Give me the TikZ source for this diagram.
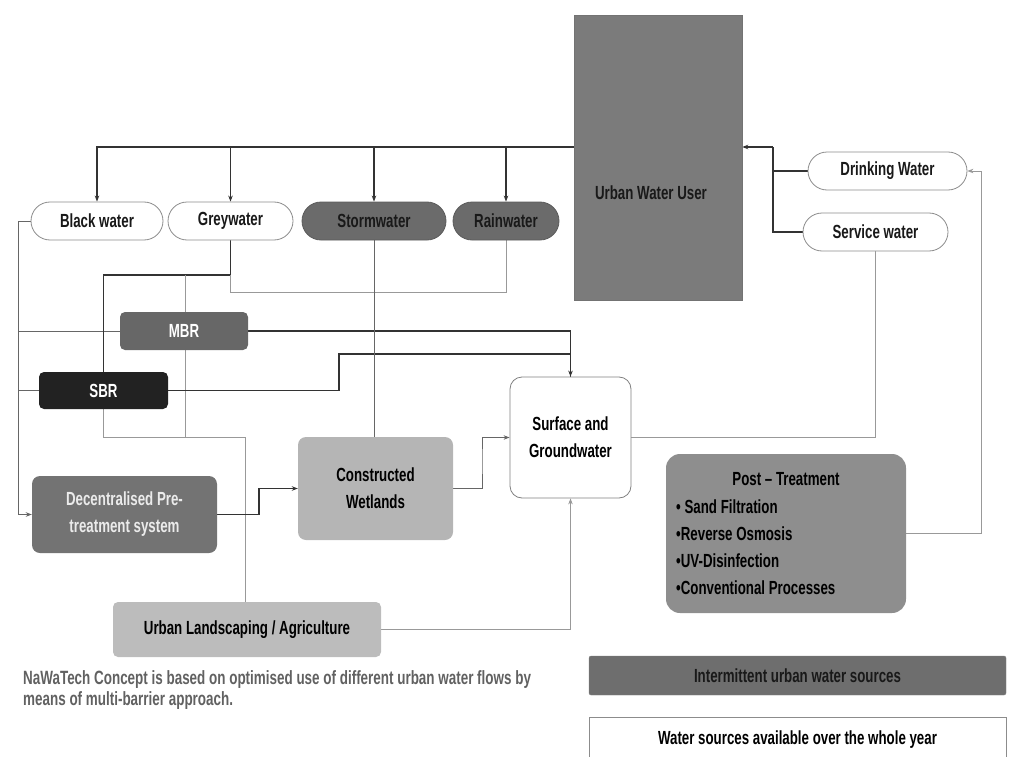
\documentclass[tikz,border=0pt]{standalone}
\usepackage{fontspec}
\newfontfamily\cf{Liberation Sans}[FakeStretch=0.7]
\usetikzlibrary{arrows.meta,backgrounds}
\definecolor{cUser}{HTML}{7B7B7B}
\definecolor{cStorm}{HTML}{6B6B6B}
\definecolor{cMBR}{HTML}{676767}
\definecolor{cSBR}{HTML}{222222}
\definecolor{cDec}{HTML}{737373}
\definecolor{cCW}{HTML}{B5B5B5}
\definecolor{cUL}{HTML}{BCBCBC}
\definecolor{cPT}{HTML}{8E8E8E}
\definecolor{cInt}{HTML}{6E6E6E}
\begin{document}
\begin{tikzpicture}[x=1pt,y=-1pt,
  font=\cf\bfseries\fontsize{19}{27}\selectfont,
  oval/.style={draw=black!45, line width=0.8pt, rounded corners=19pt, minimum height=38pt, inner sep=0pt, fill=white, text=black!90},
  ovalf/.style={oval, fill=cStorm, draw=cStorm!85!black},
  box/.style={rounded corners=5pt, inner sep=0pt, align=center},
  dk/.style={draw=black!80, line width=1.2pt},
  md/.style={draw=black!60, line width=1pt},
  lt/.style={draw=black!40, line width=0.9pt},
  arr/.style={-{Stealth[length=6pt,width=4.5pt]}}]
\useasboundingbox (0,0) rectangle (1009,757);
% nodes
\node[oval, minimum width=132pt] (bw) at (97,221) {Black water};
\node[oval, minimum width=125pt] (gw) at (230.5,221) {Greywater};
\node[ovalf, minimum width=144pt] (sw) at (374,221) {Stormwater};
\node[ovalf, minimum width=106pt] (rw) at (506,221) {Rainwater};
\node[fill=cUser, draw=black!55, minimum width=168pt, minimum height=285pt, inner sep=0pt] (uwu) at (658,157.5) {};
\node[text=black!90] (uwut) at (651,193) {Urban Water User};
\node[oval, minimum width=159pt] (dw) at (887.5,171) {Drinking Water};
\node[oval, minimum width=145pt] (sv) at (875.5,232) {Service water};
\node[box, fill=cMBR, text=white, minimum width=128pt, minimum height=38pt] (mbr) at (184,331) {MBR};
\node[box, fill=cSBR, text=white, minimum width=129pt, minimum height=37pt] (sbr) at (103.5,390.5) {SBR};
\node[box, rounded corners=8pt, fill=cDec, text=white!92!black, minimum width=185pt, minimum height=77pt] (dec) at (124.5,514.5) {Decentralised Pre-\\treatment system};
\node[box, rounded corners=8pt, fill=cCW, minimum width=155pt, minimum height=103pt] (cw) at (375.5,488.5) {Constructed\\Wetlands};
\node[box, rounded corners=12pt, fill=white, draw=black!50, line width=0.8pt, minimum width=121pt, minimum height=121pt] (sg) at (570.5,437.5) {Surface and\\Groundwater};
\node[box, fill=cUL, minimum width=268pt, minimum height=55pt] (ul) at (247,629.5) {Urban Landscaping / Agriculture};
\node[box, rounded corners=14pt, fill=cPT, minimum width=240pt, minimum height=159pt] (pt) at (786,533.5) {};
\node (ptt) at (786,479) {Post – Treatment};
\node[anchor=north west, align=left, inner sep=0pt] (ptl) at (676,500)
  {• Sand Filtration\\•Reverse Osmosis\\•UV-Disinfection\\•Conventional Processes};
\node[box, rounded corners=2pt, fill=cInt, draw=black!50, minimum width=417pt, minimum height=39pt, text=black!90] (lg1) at (797.5,675.5) {Intermittent urban water sources};
\node[box, rounded corners=0pt, fill=white, draw=black!45, minimum width=417pt, minimum height=46pt] (lg2) at (797.5,740) {Water sources available over the whole year};
\node[anchor=north west, align=left, text=black!62, inner sep=0pt, font=\cf\bfseries\fontsize{19.2}{21}\selectfont] (cap) at (23,670)
  {NaWaTech Concept is based on optimised use of different urban water flows by\\means of multi-barrier approach.};
% connectors
\coordinate (bus) at (574,147);
\coordinate (jr) at (773,147);
\coordinate (lb) at (18,221);
\coordinate (g1) at (230.5,275);
\coordinate (g2) at (185,275);
\coordinate (g3) at (230.5,292);
\coordinate (k1) at (185,437);
\coordinate (k2) at (245,437);
\coordinate (s1) at (339,354);
\coordinate (d1) at (259,500);
\coordinate (c1) at (482,460);
\coordinate (p1) at (981,400);
\begin{pgfonlayer}{background}
\draw[dk,arr] (bus) -| (bw.north);
\foreach \n in {gw,sw,rw} \draw[dk,arr] (\n.north |- bus) -- (\n.north);
\draw[dk,arr] (jr) -- (uwu.east |- jr);
\draw[dk] (dw.west) -| (jr);
\draw[dk] (sv.west) -| (jr);
\draw[md,arr] (bw.west) -- (lb) |- (dec.west);
\draw[md] (lb |- mbr.west) -- (mbr.west);
\draw[md] (lb |- sbr.west) -- (sbr.west);
\draw[dk] (gw.south) -- (g1) -| (sbr.north);
\draw[lt] (g1) -- (g3) -| (rw.south);
\draw[lt] (g2) -- (k1);
\draw[lt] (sbr.south) |- (k2) -- (ul.north -| k2);
\draw[dk,arr] (mbr.east) -| (sg.north);
\draw[dk] (sbr.east) -| (s1) -| (sg.north);
\draw[md] (sw.south) -- (sw.south |- cw.north);
\draw[dk,arr] (dec.east) -| (d1) |- (cw.west);
\draw[md,arr] (cw.east) -| (c1) |- (sg.west);
\draw[lt,arr] (ul.east) -| (sg.south);
\draw[lt] (sg.east) -| (sv.south);
\draw[lt,arr] (pt.east) -| (p1) |- (dw.east);
\end{pgfonlayer}
\end{tikzpicture}
\end{document}
